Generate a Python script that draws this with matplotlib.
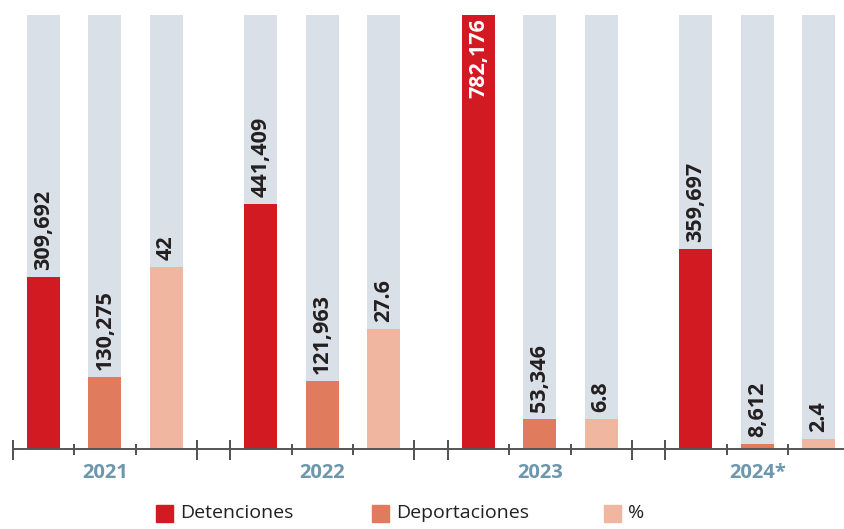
import matplotlib
matplotlib.use("Agg")
import matplotlib.pyplot as plt
from matplotlib.patches import Rectangle

years = ["2021", "2022", "2023", "2024*"]
detenciones = [309692, 441409, 782176, 359697]
deportaciones = [130275, 121963, 53346, 8612]
porcentaje = [42, 27.6, 6.8, 2.4]
det_labels = ["309,692", "441,409", "782,176", "359,697"]
dep_labels = ["130,275", "121,963", "53,346", "8,612"]
pct_labels = ["42", "27.6", "6.8", "2.4"]
series_names = ["Detenciones", "Deportaciones", "%"]
colors = ["#d11a21", "#e07b5e", "#f0b6a0"]
grey = "#d9e0e7"

plt.rcParams['font.family'] = ['Open Sans', 'DejaVu Sans']

W, H = 844, 529
fig = plt.figure(figsize=(W / 100, H / 100), dpi=100)
ax = fig.add_axes([0, 0, 1, 1])
ax.set_axis_off()

slot = 61.4  # px per slot
gap = 33.3 / slot
x0px = 12.7
vmax = max(detenciones)
base_px, top_px = 449, 15
per_px = vmax / (base_px - top_px)
ax.set_xlim(-x0px / slot, (W - x0px) / slot)
ax.set_ylim(-(H - base_px) * per_px, vmax + top_px * per_px)

bw = 33 / slot
step = 3 + gap
off = 7 * per_px

for g in range(len(years)):
    start = g * step
    vals = [detenciones[g], deportaciones[g], porcentaje[g] / 100 * vmax]
    labs = [det_labels[g], dep_labels[g], pct_labels[g]]
    for i in range(3):
        xc = start + i + 0.5
        ax.bar(xc, vmax, width=bw, color=grey, zorder=1)
        ax.bar(xc, vals[i], width=bw, color=colors[i], zorder=2)
        if vals[i] >= vmax * 0.99:
            ax.text(xc, vals[i] - 3 * per_px, labs[i], rotation=90, ha='center', va='top',
                    color='white', fontsize=15.5, fontweight='bold', zorder=3)
        else:
            ax.text(xc, vals[i] + off, labs[i], rotation=90, ha='center', va='bottom',
                    color='#231f20', fontsize=15.5, fontweight='bold', zorder=3)
    ax.text(start + 1.5, -24 * per_px, years[g], ha='center', va='center',
            color='#6d97ac', fontsize=14.5, fontweight='bold')
    # ticks
    for t, tall in [(start, True), (start + 1, False), (start + 2, False), (start + 3, True)]:
        if tall:
            ax.plot([t, t], [-11 * per_px, 9 * per_px], color='#333333', lw=1.2, zorder=4, solid_capstyle='butt')
        else:
            ax.plot([t, t], [-6 * per_px, 5 * per_px], color='#333333', lw=1.2, zorder=4, solid_capstyle='butt')

ax.plot([0, (W - x0px) / slot], [0, 0], color='#555555', lw=1.4, zorder=4)

# legend
leg_sq = [156, 372, 604]
for i in range(3):
    xl = (leg_sq[i] - x0px) / slot
    yb = -(522 - base_px) * per_px
    ax.add_patch(Rectangle((xl, yb), 17 / slot, 17 * per_px, color=colors[i], clip_on=False))
    ax.text(xl + 24 / slot, yb + 8.5 * per_px, series_names[i], ha='left', va='center',
            color='#231f20', fontsize=14)

fig.savefig("out.png", dpi=100)
